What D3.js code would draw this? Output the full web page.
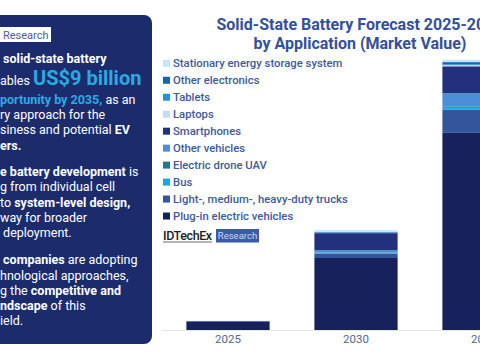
<!DOCTYPE html>
<html><head><meta charset="utf-8">
<script src="https://cdn.jsdelivr.net/npm/d3@7"></script>
<style>
html,body{margin:0;padding:0;background:#fff;overflow:hidden}
svg{display:block;font-family:Roboto,"Open Sans",sans-serif}
</style></head>
<body>
<svg id="c" width="480" height="360"></svg>
<script>
const years = ["2025", "2030", "2035"];
const seriesNames = [
  "Plug-in electric vehicles",
  "Light-, medium-, heavy-duty trucks",
  "Bus",
  "Electric drone UAV",
  "Other vehicles",
  "Smartphones",
  "Laptops",
  "Tablets",
  "Other electronics",
  "Stationary energy storage system"
];
const seriesColors = ["#17215c","#34549c","#1aa8e0","#1b7a96","#4a8fd8","#22307e","#c6daf0","#2196d3","#1565b5","#c5e6f7"];
// market value, US$ billion
const pev        = [0.28, 2.40, 6.57];
const trucks     = [0.01, 0.15, 0.77];
const bus        = [0.00, 0.03, 0.10];
const drone      = [0.00, 0.01, 0.02];
const otherVeh   = [0.00, 0.07, 0.43];
const smartphone = [0.01, 0.57, 0.90];
const laptops    = [0.00, 0.01, 0.04];
const tablets    = [0.00, 0.01, 0.02];
const otherElec  = [0.00, 0.02, 0.08];
const stationary = [0.01, 0.06, 0.08];
const seriesValues = [pev, trucks, bus, drone, otherVeh, smartphone, laptops, tablets, otherElec, stationary];

const svg = d3.select("#c");

// ---------- left info panel ----------
svg.append("rect").attr("x", -12).attr("y", 15).attr("width", 164).attr("height", 329)
  .attr("rx", 8).attr("fill", "#1b2b6b");
svg.append("rect").attr("x", -5).attr("y", 27).attr("width", 56).attr("height", 15).attr("fill", "#ffffff");
svg.append("text").attr("x", 3).attr("y", 38.5).attr("font-size", 11).attr("fill", "#4a5f95").text("Research");

const W = "#ffffff", C = "#29abe2";
const F = 12.5;
const panelLines = [
  [58.3, [[" solid-state battery", W, 700, F]]],
  [80,   [["ables ", W, 400, F], ["US$9 billion", C, 700, 20]]],
  [99,   [["portunity by 2035,", C, 700, F], [" as an", W, 400, F]]],
  [114.3,[["ry approach for the", W, 400, F]]],
  [129.7,[["siness and potential ", W, 400, F], ["EV", W, 700, F]]],
  [145.3,[["ers.", W, 700, F]]],
  [171.7,[["e battery development", W, 700, F], [" is", W, 400, F]]],
  [186.7,[["g from individual cell", W, 400, F]]],
  [202,  [["to ", W, 400, F], ["system-level design,", W, 700, F]]],
  [217.3,[["way for broader", W, 400, F]]],
  [232.3,[[" deployment.", W, 400, F]]],
  [259.3,[[" companies", W, 700, F], [" are adopting", W, 400, F]]],
  [275,  [["hnological approaches,", W, 400, F]]],
  [290,  [["g the ", W, 400, F], ["competitive and", W, 700, F]]],
  [305.3,[["ndscape", W, 700, F], [" of this", W, 400, F]]],
  [320.7,[["ield.", W, 400, F]]]
];
panelLines.forEach(([cy, segs]) => {
  const t = svg.append("text").attr("x", 0).attr("y", cy + 4.5).attr("xml:space", "preserve");
  segs.forEach(([s, col, w, fs]) => {
    t.append("tspan").attr("fill", col).attr("font-weight", w).attr("font-size", fs)
      .style("white-space", "pre").text(s);
  });
});

// ---------- title ----------
svg.append("text").attr("x", 360).attr("y", 29.5).attr("text-anchor", "middle")
  .attr("font-size", 16).attr("font-weight", 700).attr("fill", "#34509a")
  .text("Solid-State Battery Forecast 2025-2035");
svg.append("text").attr("x", 360).attr("y", 48.5).attr("text-anchor", "middle")
  .attr("font-size", 16).attr("font-weight", 700).attr("fill", "#34509a")
  .text("by Application (Market Value)");

// ---------- scales ----------
const x = d3.scaleBand().domain(years).range([164, 548]).paddingInner(0.35).paddingOuter(0.175);
const y = d3.scaleLinear().domain([0, 10]).range([330, 30]);

const table = years.map((yr, i) => {
  const row = { year: yr };
  seriesNames.forEach((n, k) => row[n] = seriesValues[k][i]);
  return row;
});
const stacked = d3.stack().keys(seriesNames)(table);
const color = d3.scaleOrdinal().domain(seriesNames).range(seriesColors);

// axis baseline
svg.append("line").attr("x1", 162).attr("x2", 480).attr("y1", y(0) + 0.5).attr("y2", y(0) + 0.5)
  .attr("stroke", "#e6e6e6").attr("stroke-width", 1);

svg.append("g").selectAll("g").data(stacked).join("g")
  .attr("fill", d => color(d.key))
  .selectAll("rect").data(d => d).join("rect")
  .attr("x", d => x(d.data.year))
  .attr("width", x.bandwidth())
  .attr("y", d => y(d[1]))
  .attr("height", d => Math.max(0, y(d[0]) - y(d[1])));

// x axis labels
const xAxis = d3.axisBottom(x).tickSize(0).tickPadding(5);
const gx = svg.append("g").attr("transform", `translate(0,${y(0)})`).call(xAxis);
gx.select(".domain").remove();
gx.selectAll("text").attr("font-size", 11.5).attr("fill", "#556690").attr("font-family", "Roboto, sans-serif");

// ---------- legend ----------
const legendOrder = seriesNames.slice().reverse();
const lg = svg.append("g").selectAll("g").data(legendOrder).join("g")
  .attr("transform", (d, i) => `translate(163,${63.3 + i * 16.97})`);
lg.append("rect").attr("x", 0).attr("y", -3.5).attr("width", 7).attr("height", 7).attr("fill", d => color(d));
lg.append("text").attr("x", 10).attr("y", 4).attr("font-size", 11.3).attr("font-weight", 500)
  .attr("fill", "#3f5a98").text(d => d);

// ---------- IDTechEx logo ----------
svg.append("text").attr("x", 163).attr("y", 239.5).attr("font-size", 12.5).attr("font-weight", 500)
  .attr("fill", "#222").attr("letter-spacing", -0.4).text("IDTechEx");
svg.append("line").attr("x1", 163).attr("x2", 212).attr("y1", 242).attr("y2", 242).attr("stroke", "#444").attr("stroke-width", 0.8);
svg.append("rect").attr("x", 216).attr("y", 229).attr("width", 43).attr("height", 13.5).attr("fill", "#3b5ba9");
svg.append("text").attr("x", 237.5).attr("y", 239).attr("text-anchor", "middle").attr("font-size", 9.5)
  .attr("fill", "#c9d5f2").text("Research");
</script>
</body></html>
